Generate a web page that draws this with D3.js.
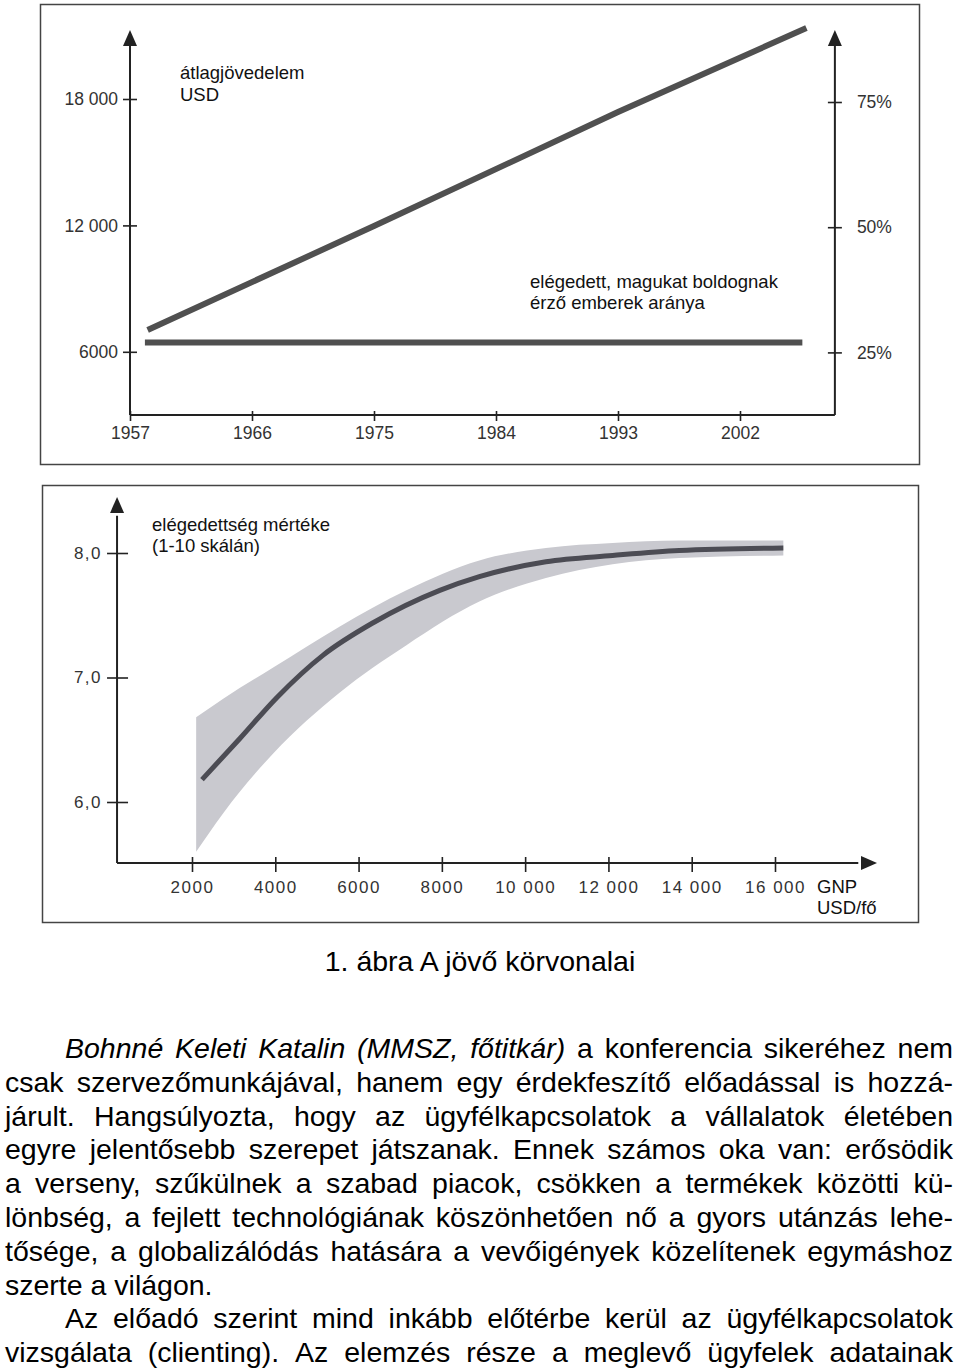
<!DOCTYPE html>
<html>
<head>
<meta charset="utf-8">
<script src="https://cdn.jsdelivr.net/npm/d3@7"></script>
<style>
  body { margin: 0; background: #fff; }
  svg { display: block; font-family: "Liberation Sans", Arial, sans-serif; }
</style>
</head>
<body>
<svg id="page" width="960" height="1371"></svg>
<script>
// ---- top chart: income and share of happy people over the years
const yearTicks = [1957, 1966, 1975, 1984, 1993, 2002];
const incomeTicks = [6000, 12000, 18000];
const incomeTickLabels = ["6000", "12 000", "18 000"];
const pctTicks = [25, 50, 75];
const pctTickLabels = ["25%", "50%", "75%"];

const incomeYears = [1958.3, 1975, 1993, 2006.9];
const incomeValues = [7035, 11970, 17380, 21370];
const happyYears = [1958.1, 2006.6];
const happyValues = [27, 27];

// ---- bottom chart: satisfaction vs GNP per head
const gnpTicks = [2000, 4000, 6000, 8000, 10000, 12000, 14000, 16000];
const gnpTickLabels = ["2000", "4000", "6000", "8000", "10 000", "12 000", "14 000", "16 000"];
const satTicks = [6, 7, 8];
const satTickLabels = ["6,0", "7,0", "8,0"];

const bandGnp = [2100, 2750, 3950, 5550, 7150, 8900, 10500, 12100, 13700, 16200];
const bandHigh = [6.68, 6.83, 7.08, 7.41, 7.70, 7.94, 8.04, 8.08, 8.10, 8.10];
const bandLow = [5.60, 5.91, 6.39, 6.88, 7.26, 7.61, 7.80, 7.91, 7.96, 7.98];

const meanGnp = [2240, 3150, 4040, 5150, 6350, 7950, 8900, 10500, 12100, 13700, 16200];
const meanSat = [6.18, 6.51, 6.84, 7.18, 7.44, 7.70, 7.81, 7.93, 7.98, 8.02, 8.04];

// ---- text below
const caption = "1. ábra A jövő körvonalai";
const paraLines = [
  "Bohnné Keleti Katalin (MMSZ, főtitkár) a konferencia sikeréhez nem",
  "csak szervezőmunkájával, hanem egy érdekfeszítő előadással is hozzá-",
  "járult. Hangsúlyozta, hogy az ügyfélkapcsolatok a vállalatok életében",
  "egyre jelentősebb szerepet játszanak. Ennek számos oka van: erősödik",
  "a verseny, szűkülnek a szabad piacok, csökken a termékek közötti kü-",
  "lönbség, a fejlett technológiának köszönhetően nő a gyors utánzás lehe-",
  "tősége, a globalizálódás hatására a vevőigények közelítenek egymáshoz",
  "szerte a világon.",
  "Az előadó szerint mind inkább előtérbe kerül az ügyfélkapcsolatok",
  "vizsgálata (clienting). Az elemzés része a meglevő ügyfelek adatainak"
];
const indentLines = [0, 8];
const lastLines = [7];      // not justified
const italicWords = 5;      // first words of line 0

const svg = d3.select("#page");
const axisColor = "#222";
const lineColor = "#505050";

function arrow(g, tx, ty, dir) {
  // dir: "up" or "right"
  const p = dir === "up"
    ? `M${tx},${ty} L${tx - 7},${ty + 16} L${tx + 7},${ty + 16} Z`
    : `M${tx},${ty} L${tx - 16},${ty - 7} L${tx - 16},${ty + 7} Z`;
  g.append("path").attr("d", p).attr("fill", axisColor);
}

// ================= top chart =================
svg.append("rect").attr("x", 40.5).attr("y", 4.5).attr("width", 879).attr("height", 460)
  .attr("fill", "none").attr("stroke", "#444").attr("stroke-width", 1.5);

const xYear = d3.scaleLinear().domain([1957, 2002]).range([130, 740]);
const yInc = d3.scaleLinear().domain([3000, 18000]).range([415, 99]);
const yPct = d3.scaleLinear().domain([12.5, 75]).range([415, 102]);

const topG = svg.append("g");
const baseY = yInc(3000);
const rightX = xYear(2009);

// left axis
const gl = topG.append("g").attr("transform", `translate(${xYear(1957)},0)`)
  .call(d3.axisLeft(yInc).tickValues(incomeTicks).tickFormat((d, i) => incomeTickLabels[i]));
// right axis
const gr = topG.append("g").attr("transform", `translate(${rightX},0)`)
  .call(d3.axisRight(yPct).tickValues(pctTicks).tickFormat((d, i) => pctTickLabels[i]));
// bottom axis
const gb = topG.append("g").attr("transform", `translate(0,${baseY})`)
  .call(d3.axisBottom(xYear).tickValues(yearTicks).tickFormat(d3.format("d")));

[gl, gr, gb].forEach(g => {
  g.select(".domain").remove();
  g.selectAll("text").attr("font-family", null).attr("font-size", 17.5).attr("fill", "#333");
  g.selectAll(".tick line").attr("stroke", axisColor).attr("stroke-width", 1.6);
});
gl.selectAll(".tick line").attr("x1", -7).attr("x2", 7);
gl.selectAll("text").attr("x", -12);
gr.selectAll(".tick line").attr("x1", -7).attr("x2", 7);
gr.selectAll("text").attr("x", 22);
gb.selectAll(".tick line").attr("y1", -4).attr("y2", 6);
gb.selectAll("text").attr("y", 24).attr("dy", 0);

topG.append("line").attr("x1", xYear(1957)).attr("x2", xYear(1957))
  .attr("y1", baseY).attr("y2", yInc(21000)).attr("stroke", axisColor).attr("stroke-width", 2);
topG.append("line").attr("x1", rightX).attr("x2", rightX)
  .attr("y1", baseY).attr("y2", yInc(21000)).attr("stroke", axisColor).attr("stroke-width", 2);
topG.append("line").attr("x1", xYear(1957)).attr("x2", rightX)
  .attr("y1", baseY).attr("y2", baseY).attr("stroke", axisColor).attr("stroke-width", 2);
arrow(topG, xYear(1957), 30, "up");
arrow(topG, rightX, 30, "up");

const incLine = d3.line().x((d, i) => xYear(incomeYears[i])).y(d => yInc(d));
topG.append("path").attr("d", incLine(incomeValues))
  .attr("fill", "none").attr("stroke", lineColor).attr("stroke-width", 6);
const pctLine = d3.line().x((d, i) => xYear(happyYears[i])).y(d => yPct(d));
topG.append("path").attr("d", pctLine(happyValues))
  .attr("fill", "none").attr("stroke", lineColor).attr("stroke-width", 6);

const topLabels = topG.append("g").attr("font-size", 18.5).attr("fill", "#111");
topLabels.append("text").attr("x", 180).attr("y", 79).text("átlagjövedelem");
topLabels.append("text").attr("x", 180).attr("y", 101).text("USD");
topLabels.append("text").attr("x", 530).attr("y", 288).text("elégedett, magukat boldognak");
topLabels.append("text").attr("x", 530).attr("y", 309).text("érző emberek aránya");

// ================= bottom chart =================
svg.append("rect").attr("x", 42.5).attr("y", 485.5).attr("width", 876).attr("height", 437)
  .attr("fill", "none").attr("stroke", "#444").attr("stroke-width", 1.5);

const xGnp = d3.scaleLinear().domain([2000, 16000]).range([192, 775]);
const ySat = d3.scaleLinear().domain([6, 8]).range([802, 553]);
const botG = svg.append("g");
const axX = xGnp(200);
const axY = ySat(5.51);

const band = d3.area().curve(d3.curveMonotoneX)
  .x((d, i) => xGnp(bandGnp[i])).y0((d, i) => ySat(bandLow[i])).y1(d => ySat(d));
botG.append("path").attr("d", band(bandHigh)).attr("fill", "#c9c9cf");

const meanLine = d3.line().curve(d3.curveMonotoneX)
  .x((d, i) => xGnp(meanGnp[i])).y(d => ySat(d));
botG.append("path").attr("d", meanLine(meanSat))
  .attr("fill", "none").attr("stroke", "#4c4c54").attr("stroke-width", 5);

const bl = botG.append("g").attr("transform", `translate(${axX},0)`)
  .call(d3.axisLeft(ySat).tickValues(satTicks).tickFormat((d, i) => satTickLabels[i]));
const bb = botG.append("g").attr("transform", `translate(0,${axY})`)
  .call(d3.axisBottom(xGnp).tickValues(gnpTicks).tickFormat((d, i) => gnpTickLabels[i]));
[bl, bb].forEach(g => {
  g.select(".domain").remove();
  g.selectAll("text").attr("font-family", null).attr("font-size", 17)
    .attr("letter-spacing", 1.5).attr("fill", "#333");
  g.selectAll(".tick line").attr("stroke", axisColor).attr("stroke-width", 1.6);
});
bl.selectAll(".tick line").attr("x1", -10).attr("x2", 11);
bl.selectAll("text").attr("x", -15);
bb.selectAll(".tick line").attr("y1", -6).attr("y2", 9);
bb.selectAll("text").attr("y", 30).attr("dy", 0);

botG.append("line").attr("x1", axX).attr("x2", axX)
  .attr("y1", axY).attr("y2", ySat(8.3)).attr("stroke", axisColor).attr("stroke-width", 2);
botG.append("line").attr("x1", axX).attr("x2", xGnp(18000))
  .attr("y1", axY).attr("y2", axY).attr("stroke", axisColor).attr("stroke-width", 2);
arrow(botG, axX, ySat(8.45), "up");
arrow(botG, xGnp(18450), axY, "right");

const botLabels = botG.append("g").attr("font-size", 18.5).attr("fill", "#111");
botLabels.append("text").attr("x", 152).attr("y", 531).text("elégedettség mértéke");
botLabels.append("text").attr("x", 152).attr("y", 552).text("(1-10 skálán)");
botLabels.append("text").attr("x", 817).attr("y", 893).text("GNP");
botLabels.append("text").attr("x", 817).attr("y", 914).text("USD/fő");

// ================= caption and paragraph =================
const fs = 28.5;
svg.append("text").attr("x", 480).attr("y", 971).attr("text-anchor", "middle")
  .attr("font-size", fs).attr("fill", "#000").text(caption);

const meas = svg.append("text").attr("font-size", fs).attr("x", -1000).attr("y", -1000);
function wordWidth(w, it) {
  meas.attr("font-style", it ? "italic" : "normal").text(w);
  return meas.node().getComputedTextLength();
}
meas.text("a a");
const spaceW = meas.node().getComputedTextLength() - 2 * wordWidth("a", false);

const para = svg.append("g").attr("font-size", fs).attr("fill", "#000");
const leftM = 5, rightM = 953, firstBase = 1058, lineGap = 33.8;
paraLines.forEach((line, li) => {
  const words = line.split(" ");
  const x0 = indentLines.includes(li) ? 65 : leftM;
  const isIt = wi => li === 0 && wi < italicWords;
  const ws = words.map((w, wi) => wordWidth(w, isIt(wi)));
  const total = d3.sum(ws);
  const gap = lastLines.includes(li) ? spaceW : (rightM - x0 - total) / (words.length - 1);
  let x = x0;
  const y = firstBase + li * lineGap;
  words.forEach((w, wi) => {
    para.append("text").attr("x", x).attr("y", y)
      .attr("font-style", isIt(wi) ? "italic" : null).text(w);
    x += ws[wi] + gap;
  });
});
meas.remove();
</script>
</body>
</html>
